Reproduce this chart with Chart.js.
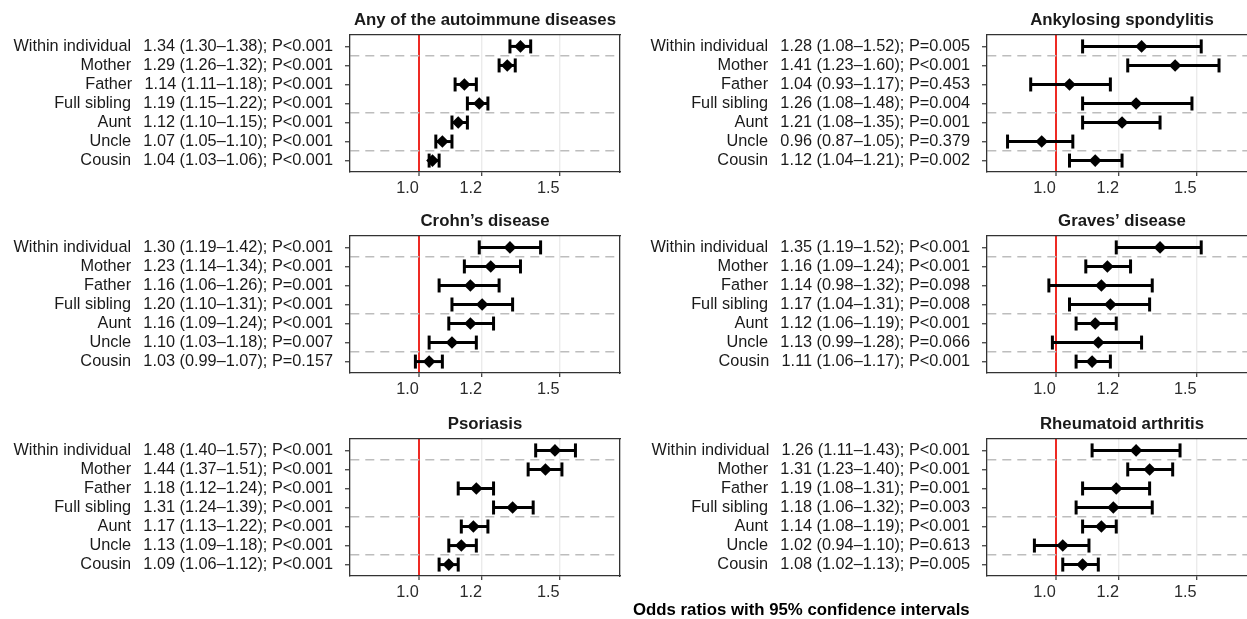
<!DOCTYPE html>
<html lang="en">
<head>
<meta charset="UTF-8">
<title>Familial odds ratios for autoimmune diseases</title>
<script src="https://cdn.jsdelivr.net/npm/chart.js"></script>
<style>
  body { margin: 0; width: 1247px; height: 619px; overflow: hidden; background: #fff; position: relative;
         font-family: 'Liberation Sans', Arial, sans-serif; }
  canvas.panel { position: absolute; }
  #xtitle { position: absolute; left: 633px; top: 600px; font-weight: bold; font-size: 16.8px;
            line-height: 20px; color: #000; white-space: nowrap; }
</style>
</head>
<body>
<canvas id="p0" class="panel" width="630" height="202" style="left:0;top:0"></canvas>
<canvas id="p1" class="panel" width="630" height="202" style="left:637px;top:0"></canvas>
<canvas id="p2" class="panel" width="630" height="202" style="left:0;top:201px"></canvas>
<canvas id="p3" class="panel" width="630" height="202" style="left:637px;top:201px"></canvas>
<canvas id="p4" class="panel" width="630" height="202" style="left:0;top:404px"></canvas>
<canvas id="p5" class="panel" width="630" height="202" style="left:637px;top:404px"></canvas>
<div id="xtitle">Odds ratios with 95% confidence intervals</div>

<script>
  // rows (top to bottom) and axis settings
  const relatives = ['Within individual', 'Mother', 'Father', 'Full sibling', 'Aunt', 'Uncle', 'Cousin'];
  const xTicks = [1.0, 1.2, 1.5];
  const dividers = [1.5, 4.5, 6.5];

  // Any of the autoimmune diseases
  const anyOR = [1.34, 1.29, 1.14, 1.19, 1.12, 1.07, 1.04];
  const anyLo = [1.30, 1.26, 1.11, 1.15, 1.10, 1.05, 1.03];
  const anyHi = [1.38, 1.32, 1.18, 1.22, 1.15, 1.10, 1.06];
  const anyP = ['P<0.001', 'P<0.001', 'P<0.001', 'P<0.001', 'P<0.001', 'P<0.001', 'P<0.001'];

  // Ankylosing spondylitis
  const asOR = [1.28, 1.41, 1.04, 1.26, 1.21, 0.96, 1.12];
  const asLo = [1.08, 1.23, 0.93, 1.08, 1.08, 0.87, 1.04];
  const asHi = [1.52, 1.60, 1.17, 1.48, 1.35, 1.05, 1.21];
  const asP = ['P=0.005', 'P<0.001', 'P=0.453', 'P=0.004', 'P=0.001', 'P=0.379', 'P=0.002'];

  // Crohn's disease
  const cdOR = [1.30, 1.23, 1.16, 1.20, 1.16, 1.10, 1.03];
  const cdLo = [1.19, 1.14, 1.06, 1.10, 1.09, 1.03, 0.99];
  const cdHi = [1.42, 1.34, 1.26, 1.31, 1.24, 1.18, 1.07];
  const cdP = ['P<0.001', 'P<0.001', 'P=0.001', 'P<0.001', 'P<0.001', 'P=0.007', 'P=0.157'];

  // Graves' disease
  const gdOR = [1.35, 1.16, 1.14, 1.17, 1.12, 1.13, 1.11];
  const gdLo = [1.19, 1.09, 0.98, 1.04, 1.06, 0.99, 1.06];
  const gdHi = [1.52, 1.24, 1.32, 1.31, 1.19, 1.28, 1.17];
  const gdP = ['P<0.001', 'P<0.001', 'P=0.098', 'P=0.008', 'P<0.001', 'P=0.066', 'P<0.001'];

  // Psoriasis
  const psOR = [1.48, 1.44, 1.18, 1.31, 1.17, 1.13, 1.09];
  const psLo = [1.40, 1.37, 1.12, 1.24, 1.13, 1.09, 1.06];
  const psHi = [1.57, 1.51, 1.24, 1.39, 1.22, 1.18, 1.12];
  const psP = ['P<0.001', 'P<0.001', 'P<0.001', 'P<0.001', 'P<0.001', 'P<0.001', 'P<0.001'];

  // Rheumatoid arthritis
  const raOR = [1.26, 1.31, 1.19, 1.18, 1.14, 1.02, 1.08];
  const raLo = [1.11, 1.23, 1.08, 1.06, 1.08, 0.94, 1.02];
  const raHi = [1.43, 1.40, 1.31, 1.32, 1.19, 1.10, 1.13];
  const raP = ['P<0.001', 'P<0.001', 'P=0.001', 'P=0.003', 'P<0.001', 'P=0.613', 'P=0.005'];

  const panels = [
    { id: 'p0', title: 'Any of the autoimmune diseases', or: anyOR, lo: anyLo, hi: anyHi, p: anyP },
    { id: 'p1', title: 'Ankylosing spondylitis', or: asOR, lo: asLo, hi: asHi, p: asP },
    { id: 'p2', title: 'Crohn\u2019s disease', or: cdOR, lo: cdLo, hi: cdHi, p: cdP },
    { id: 'p3', title: 'Graves\u2019 disease', or: gdOR, lo: gdLo, hi: gdHi, p: gdP },
    { id: 'p4', title: 'Psoriasis', or: psOR, lo: psLo, hi: psHi, p: psP },
    { id: 'p5', title: 'Rheumatoid arthritis', or: raOR, lo: raLo, hi: raHi, p: raP }
  ];

  Chart.defaults.font.family = "'Liberation Sans', Arial, sans-serif";

  const labelFont = { size: 16.3 };
  const titleFont = { size: 16.8, weight: 'bold' };

  function rowLabel(d, i) {
    return relatives[i] + '  \u2009' + d.or[i].toFixed(2) + ' (' + d.lo[i].toFixed(2) + '\u2013' +
      d.hi[i].toFixed(2) + '); ' + d.p[i];
  }

  function makePanel(d) {
    // one line per confidence interval, caps drawn as vertical line points
    const ciSets = relatives.map((r, i) => ({
      type: 'line',
      data: [{ x: d.lo[i], y: i + 1 }, { x: d.hi[i], y: i + 1 }],
      borderColor: '#000',
      borderWidth: 3,
      pointStyle: 'line',
      pointRotation: 90,
      pointRadius: 7,
      pointBorderWidth: 3,
      pointBorderColor: '#000',
      order: 1
    }));
    const estimates = {
      type: 'scatter',
      data: d.or.map((v, i) => ({ x: v, y: i + 1 })),
      pointStyle: 'rectRot',
      pointRadius: 6.3,
      backgroundColor: '#000',
      borderWidth: 0,
      order: 0
    };

    new Chart(document.getElementById(d.id), {
      type: 'scatter',
      data: { datasets: [...ciSets, estimates] },
      options: {
        responsive: false,
        animation: false,
        events: [],
        layout: { padding: 0 },
        plugins: { legend: { display: false }, tooltip: { enabled: false } },
        scales: {
          x: {
            type: 'logarithmic',
            position: 'bottom',
            min: 0.82,
            max: 1.785,
            bounds: 'data',
            afterBuildTicks: s => { s.ticks = xTicks.map(v => ({ value: v })); },
            afterFit: s => { s.height = 30; },
            ticks: {
              callback: v => Number(v).toFixed(1),
              align: 'end',
              padding: 3,
              color: '#2b2b2b',
              font: labelFont,
              autoSkip: false,
              maxRotation: 0
            },
            grid: {
              color: c => (c.tick && c.tick.value === 1 ? '#ee2a24' : '#ebebeb'),
              lineWidth: c => (c.tick && c.tick.value === 1 ? 2 : 1.4),
              tickLength: 4,
              tickColor: '#333',
              tickWidth: 1.2
            },
            border: { color: '#333', width: 1.3 }
          },
          y: {
            type: 'linear',
            position: 'left',
            reverse: true,
            min: 0.4,
            max: 7.6,
            afterBuildTicks: s => {
              const t = [];
              for (let v = 1; v <= relatives.length; v += 0.5) t.push({ value: v });
              s.ticks = t;
            },
            afterFit: s => { s.width = 350; },
            ticks: {
              callback: v => (Number.isInteger(v) ? rowLabel(d, v - 1) : ''),
              color: '#1a1a1a',
              font: labelFont,
              padding: 12,
              autoSkip: false
            },
            grid: {
              color: c => (dividers.includes(c.tick.value) ? '#bdbdbd' : 'rgba(0,0,0,0)'),
              lineWidth: 1.5,
              tickLength: 5,
              tickColor: c => (Number.isInteger(c.tick.value) ? '#333' : 'rgba(0,0,0,0)'),
              tickWidth: 1.2
            },
            border: { color: '#333', width: 1.3, dash: [9, 6] }
          },
          top: {
            type: 'linear',
            position: 'top',
            min: 0,
            max: 1,
            ticks: { display: false },
            grid: { display: false },
            border: { color: '#333', width: 1.3 },
            title: {
              display: true,
              text: d.title,
              font: titleFont,
              color: '#1a1a1a',
              padding: { top: 10.7, bottom: 0 }
            },
            afterFit: s => { s.height = 35; }
          },
          right: {
            type: 'linear',
            position: 'right',
            min: 0,
            max: 1,
            ticks: { display: false },
            grid: { display: false },
            border: { color: '#333', width: 1.3 },
            afterFit: s => { s.width = 8; }
          }
        }
      }
    });
  }

  panels.forEach(makePanel);
</script>
</body>
</html>
